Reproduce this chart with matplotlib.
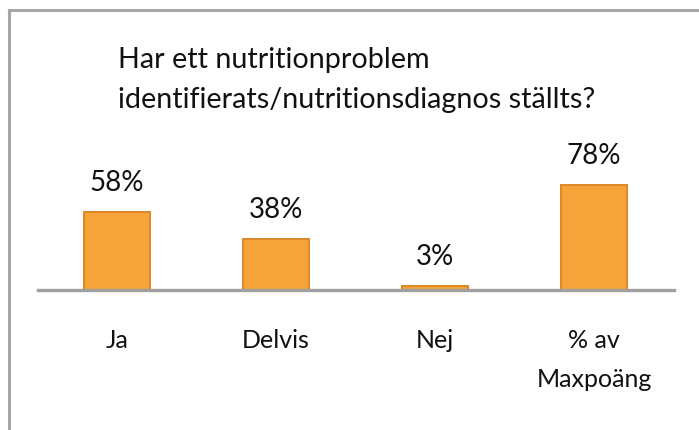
import matplotlib
matplotlib.use("Agg")
import matplotlib.pyplot as plt
from matplotlib.lines import Line2D

plt.rcParams['font.family'] = ['Lato', 'DejaVu Sans']

# data
categories = ["Ja", "Delvis", "Nej", "% av\nMaxpoäng"]
values = [58, 38, 3, 78]
value_labels = ["58%", "38%", "3%", "78%"]
title = "Har ett nutritionproblem\nidentifierats/nutritionsdiagnos ställts?"

W, H = 699, 430
fig = plt.figure(figsize=(W / 100, H / 100), dpi=100)
fig.patch.set_facecolor("white")

# outer frame (only left and top edges visible)
fx = 9 / W
fy = 1 - 10 / H
fig.add_artist(Line2D([fx, fx], [0, fy], color="#a6a6a6", lw=2.2))
fig.add_artist(Line2D([fx, 1], [fy, fy], color="#a6a6a6", lw=2.2))

# axes: baseline at y=290px, bars spaced 159px
ax = fig.add_axes([37.5 / W, (H - 290) / H, 636 / W, 160 / H])
ax.set_xlim(-0.5, 3.5)
ax.set_ylim(0, 160 / 1.35)
ax.set_facecolor("none")

x = range(len(categories))
ax.bar(x, values, width=0.415, color="#f6a339", edgecolor="#dd8826",
       linewidth=1.4, zorder=2)

for xi, v, lab in zip(x, values, value_labels):
    ax.annotate(lab, (xi, v), xytext=(0, 15), textcoords="offset points",
                ha="center", va="baseline", fontsize=20, color="#111111")

for s in ["top", "right", "left"]:
    ax.spines[s].set_visible(False)
ax.spines["bottom"].set_color("#a0a0a0")
ax.spines["bottom"].set_linewidth(2.4)
ax.spines["bottom"].set_zorder(3)
ax.set_yticks([])
ax.set_xticks(list(x))
ax.set_xticklabels(categories, fontsize=18, color="#111111", linespacing=1.85,
                   va="top")
ax.tick_params(axis="x", length=0, pad=28)

fig.text(118 / W, 1 - 80 / H, title, ha="left", va="center", fontsize=20.7,
         color="#111111", linespacing=1.7)

fig.savefig("out.png", dpi=100, facecolor="white")
